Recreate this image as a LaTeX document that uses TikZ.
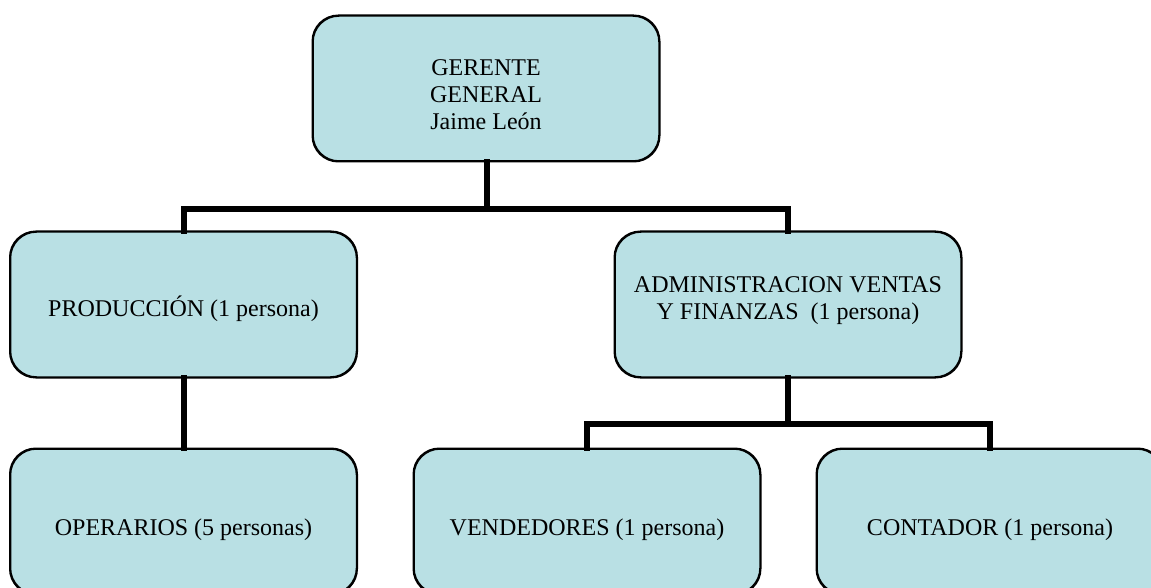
\documentclass[tikz,border=0pt]{standalone}
\usepackage{fontspec}
\setmainfont{Liberation Serif}
\begin{document}
\begin{tikzpicture}[x=1pt,y=-1pt,
  unit/.style={draw=black, line width=1.5pt, fill=boxfill, rounded corners=26pt,
    minimum width=346pt, minimum height=145pt, align=center, inner sep=0pt,
    font=\fontsize{24}{27.3}\selectfont},
  % puts the last baseline of a label #1/2 below the centre of its unit
  baseline drop/.style={text height=#1, text depth=0pt},
  link/.style={draw=black, line width=6pt, line join=miter, line cap=rect}]
\definecolor{boxfill}{RGB}{185,224,228}
\clip (0,0) rectangle (1151,588);
\fill[white] (0,0) rectangle (1151,588);

% junction points of the tree links
\coordinate (busA) at (487,209);
\coordinate (busB) at (788,424);

% units
\node[unit, baseline drop=83pt] (gerente) at (486,88.5) {GERENTE\\GENERAL\\Jaime León};
\node[unit, baseline drop=24.4pt] (prod) at (183.5,304.5) {PRODUCCIÓN (1 persona)};
\node[unit, baseline drop=29pt, font=\fontsize{24}{26.3}\selectfont] (admin) at (788,304.5)
  {ADMINISTRACION VENTAS\\Y FINANZAS~ (1 persona)};
\node[unit, baseline drop=27pt] (oper) at (183.5,521.5) {OPERARIOS (5 personas)};
\node[unit, baseline drop=27pt] (vend) at (587,521.5) {VENDEDORES (1 persona)};
\node[unit, baseline drop=27pt] (cont) at (990,521.5) {CONTADOR (1 persona)};

% tree links
\path[link] (gerente.south -| busA) -- (busA);
\path[link] (prod.north) |- (busA) -| (admin.north);
\path[link] (prod.south) -- (oper.north);
\path[link] (admin.south) -- (busB);
\path[link] (vend.north) |- (busB) -| (cont.north);

% outlines redrawn over the link ends
\foreach \n in {gerente,prod,admin,oper,vend,cont}{
  \draw[line width=1.5pt, rounded corners=26pt] (\n.north west) rectangle (\n.south east);
}
\end{tikzpicture}
\end{document}
